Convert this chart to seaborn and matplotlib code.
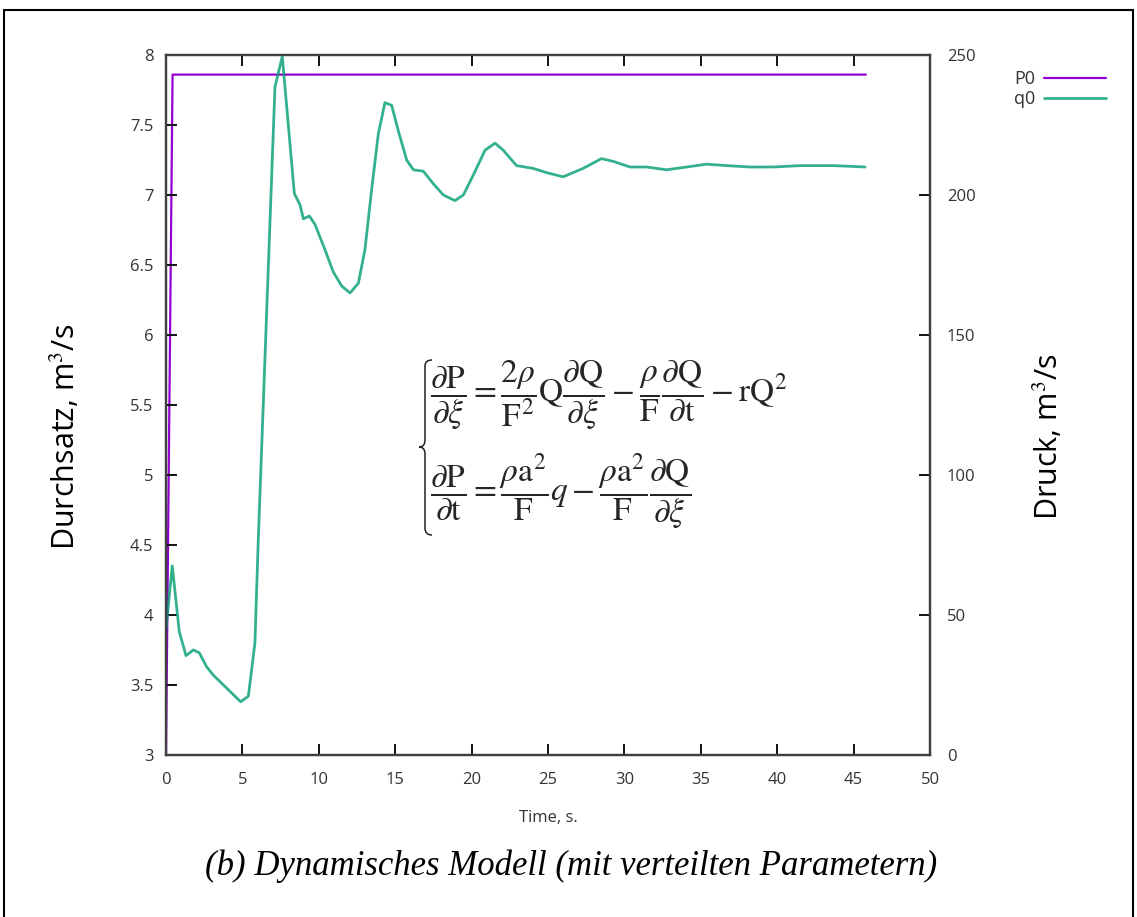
import numpy as np
import pandas as pd
import seaborn as sns
import matplotlib.pyplot as plt
from matplotlib.lines import Line2D
from matplotlib.path import Path
from matplotlib.patches import PathPatch

# values
time_q = [0, 0.41, 0.87, 1.31, 1.79, 2.18, 2.66, 3.10, 4.89, 5.39, 5.82, 6.04,
          7.13, 7.61, 8.4, 8.77, 8.99, 9.38, 9.75, 10.4, 10.95, 11.5, 12.04,
          12.59, 13.02, 13.46, 13.9, 14.33, 14.77, 15.2, 15.75, 16.19, 16.84,
          17.5, 18.15, 18.91, 19.46, 20.1, 20.88, 21.53, 22.07, 22.94, 24.03,
          24.9, 25.99, 27.3, 28.5, 29.27, 30.37, 31.45, 32.76, 34.07, 35.38,
          36.69, 38.2, 39.74, 41.5, 43.67, 45.75]
q0 = [3.9, 4.35, 3.88, 3.71, 3.75, 3.73, 3.63, 3.57, 3.38, 3.42, 3.80, 4.54,
      7.77, 7.99, 7.01, 6.93, 6.83, 6.85, 6.79, 6.61, 6.45, 6.35, 6.30,
      6.37, 6.61, 7.04, 7.44, 7.66, 7.64, 7.46, 7.25, 7.18, 7.17,
      7.08, 7.0, 6.96, 7.0, 7.14, 7.32, 7.37, 7.32, 7.21, 7.19,
      7.16, 7.13, 7.19, 7.26, 7.24, 7.20, 7.2, 7.18, 7.2, 7.22,
      7.21, 7.2, 7.2, 7.21, 7.21, 7.2]

time_p = [0, 0.43, 45.8]
p0 = [0, 243, 243]

x_ticks = [0, 5, 10, 15, 20, 25, 30, 35, 40, 45, 50]
y_ticks = [3, 3.5, 4, 4.5, 5, 5.5, 6, 6.5, 7, 7.5, 8]
y_tick_labels = ["3", "3.5", "4", "4.5", "5", "5.5", "6", "6.5", "7", "7.5", "8"]
y2_ticks = [0, 50, 100, 150, 200, 250]

purple = "#9400d3"
green = "#009e73"
axis_col = "#404040"
text_col = "#333333"

W, H = 1137, 917

sns.set_style("white")
plt.rcParams["font.family"] = ["Open Sans", "DejaVu Sans"]
plt.rcParams["mathtext.fontset"] = "stix"

fig = plt.figure(figsize=(W / 100, H / 100), dpi=100)
ax = fig.add_axes([166 / W, 1 - 755 / H, (930 - 166) / W, (755 - 55) / H])
ax2 = ax.twinx()

df_q = pd.DataFrame({"t": time_q, "q0": q0})
df_p = pd.DataFrame({"t": time_p, "P0": p0})

sns.lineplot(data=df_p, x="t", y="P0", ax=ax2, color=purple, lw=1.6,
             estimator=None, sort=False)
sns.lineplot(data=df_q, x="t", y="q0", ax=ax, color=green, lw=2.0, alpha=0.8,
             estimator=None, sort=False)
ax.set_zorder(ax2.get_zorder() + 1)
ax.patch.set_visible(False)

ax.set_xlim(0, 50)
ax.set_ylim(3, 8)
ax2.set_ylim(0, 250)
ax.set_xticks(x_ticks)
ax.set_yticks(y_ticks)
ax.set_yticklabels(y_tick_labels)
ax2.set_yticks(y2_ticks)

for a in (ax, ax2):
    for s in a.spines.values():
        s.set_color(axis_col)
        s.set_linewidth(1.6)
ax.tick_params(axis="x", direction="in", length=8, width=1.3, top=True,
               bottom=True, labelcolor=text_col, labelsize=12, pad=12)
ax.tick_params(axis="y", direction="in", length=8, width=1.3, left=True,
               right=False, labelcolor=text_col, labelsize=12, pad=9)
ax2.tick_params(axis="y", direction="in", length=8, width=1.3, right=True,
                left=False, labelcolor=text_col, labelsize=12, pad=12)
for a in (ax, ax2):
    a.tick_params(color="black")

ax.set_xlabel("Time, s.", fontsize=12, color=text_col, labelpad=16)
ax.set_ylabel("Durchsatz, m$^3$/s", fontsize=22, color="black")
ax2.set_ylabel("Druck, m$^3$/s", fontsize=22, color="black")
# both side titles sit a little below the axes' middle, as in the reference
ax.yaxis.set_label_coords(-(166 - 82) / (930 - 166), (755 - 437) / 700)
ax2.yaxis.set_label_coords((1032 - 166) / (930 - 166), (755 - 437) / 700)

# legend (text left of sample line)
handles = [Line2D([0], [0], color=purple, lw=1.6),
           Line2D([0], [0], color=green, lw=2.0, alpha=0.8)]
fig.legend(handles, ["P0", "q0"], loc="upper right",
           bbox_to_anchor=(1122 / W, 1 - 54 / H), frameon=False,
           markerfirst=False, handlelength=3.4, handletextpad=0.5,
           fontsize=13, labelspacing=0.1, labelcolor=text_col)

# equations
eq1 = (r"$\dfrac{\partial \mathrm{P}}{\partial \xi} = \dfrac{2\rho}{\mathrm{F}^2}"
       r"\mathrm{Q}\dfrac{\partial \mathrm{Q}}{\partial \xi} - "
       r"\dfrac{\rho}{\mathrm{F}}\dfrac{\partial \mathrm{Q}}{\partial \mathrm{t}}"
       r" - \mathrm{rQ}^2$")
eq2 = (r"$\dfrac{\partial \mathrm{P}}{\partial \mathrm{t}} = "
       r"\dfrac{\rho \mathrm{a}^2}{\mathrm{F}}q - "
       r"\dfrac{\rho \mathrm{a}^2}{\mathrm{F}}\dfrac{\partial \mathrm{Q}}{\partial \xi}$")
fig.text(430 / W, 1 - 395 / H, eq1, fontsize=24, ha="left", va="center")
fig.text(430 / W, 1 - 492 / H, eq2, fontsize=24, ha="left", va="center")

# thin curly brace in front of the equation system
bx = [432, 425, 425, 419, 425, 425, 432]
by = [360, 366, 440, 447, 454, 528, 535]
verts = [(bx[0], by[0]), (bx[1], by[0]), (bx[1], by[1]), (bx[2], by[2]),
         (bx[2], by[3]), (bx[3], by[3]),
         (bx[4], by[3]), (bx[4], by[4]), (bx[5], by[5]),
         (bx[5], by[6]), (bx[6], by[6])]
verts = [(x / W, 1 - y / H) for x, y in verts]
codes = [Path.MOVETO, Path.CURVE3, Path.CURVE3, Path.LINETO,
         Path.CURVE3, Path.CURVE3,
         Path.CURVE3, Path.CURVE3, Path.LINETO,
         Path.CURVE3, Path.CURVE3]
fig.add_artist(PathPatch(Path(verts, codes), fill=False, lw=1.1,
                         edgecolor="#222222", transform=fig.transFigure))

# caption
fig.text(571 / W, 1 - 866 / H,
         "(b) Dynamisches Modell (mit verteilten Parametern)",
         fontsize=25, style="italic", family="Liberation Serif",
         color="black", ha="center", va="center")

# outer frame
for xs, ys in [([4, 4], [917, 10]), ([4, 1133], [10, 10]), ([1133, 1133], [10, 917])]:
    fig.add_artist(Line2D([x / W for x in xs], [1 - y / H for y in ys],
                          color="black", lw=1.5, transform=fig.transFigure))

fig.savefig("out.png", dpi=100)
